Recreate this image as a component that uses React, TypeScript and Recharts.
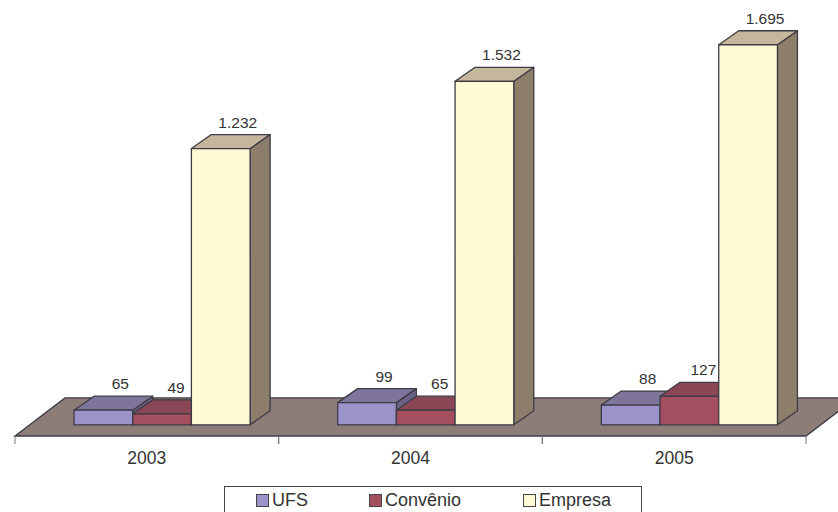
import React from "react";
import { BarChart, Bar, XAxis, YAxis, Legend, LabelList, ReferenceArea } from "recharts";

const years = ["2003", "2004", "2005"];
const ufs = [65, 99, 88];
const convenio = [49, 65, 127];
const empresa = [1232, 1532, 1695];

const chartData = years.map((year, i) => ({
  year,
  UFS: ufs[i],
  "Convênio": convenio[i],
  Empresa: empresa[i],
}));

const FONT = "'Liberation Sans', Arial, sans-serif";
const EDGE = "#3d3b45";
const TEXT = "#333333";
const DEPTH_X = 20;
const DEPTH_Y = 14;
// the bars sit right of the band centre, to leave room for the depth
const SHIFT = 15;
const BAND = 263.7;

const colors: Record<string, { front: string; top: string; side: string }> = {
  UFS: { front: "#9b93c9", top: "#7f7499", side: "#6b6285" },
  "Convênio": { front: "#a34f60", top: "#8a4655", side: "#733a47" },
  Empresa: { front: "#fff9d6", top: "#c5b79b", side: "#8d7d6b" },
};

const Box3D = (props: any) => {
  const { x, y, width, height, name } = props;
  const c = colors[name];
  const l = x + SHIFT;
  const r = l + width;
  const b = y + height;
  const dx = DEPTH_X;
  const dy = DEPTH_Y;
  return (
    <g stroke={EDGE} strokeWidth={1.3} strokeLinejoin="round">
      <polygon points={`${r},${y} ${r + dx},${y - dy} ${r + dx},${b - dy} ${r},${b}`} fill={c.side} />
      <polygon points={`${l},${y} ${l + dx},${y - dy} ${r + dx},${y - dy} ${r},${y}`} fill={c.top} />
      <rect x={l} y={y} width={width} height={height} fill={c.front} />
    </g>
  );
};

const Floor = (props: any) => {
  const { x, y, width, height } = props;
  const b = y + height;
  return (
    <polygon
      points={`${x},${b} ${x + 50},${y} ${x + width + 50},${y} ${x + width},${b}`}
      fill="#8c7d78"
      stroke={EDGE}
      strokeWidth={1.3}
    />
  );
};

const YearTick = (props: any) => {
  const { x, y, payload } = props;
  const half = BAND / 2;
  return (
    <g>
      <line x1={x - half} x2={x - half} y1={y - 8} y2={y} stroke="#777" />
      <line x1={x + half} x2={x + half} y1={y - 8} y2={y} stroke="#777" />
      <text x={x} y={y + 20} fontFamily={FONT} fontSize={17.5} fill={TEXT} style={{ textAnchor: "middle" }}>
        {payload.value}
      </text>
    </g>
  );
};

const formatValue = (v: number) => String(v).replace(/\B(?=(\d{3})+$)/g, ".");

const ValueLabel = (props: any) => {
  const { x, y, width, value, nudge = 17 } = props;
  return (
    <text
      x={x + SHIFT + width / 2 + nudge}
      y={y - DEPTH_Y - 7}
      style={{ textAnchor: "middle" }}
      fontFamily={FONT}
      fontSize={15.5}
      fill={TEXT}
    >
      {formatValue(value)}
    </text>
  );
};

const legendX: Record<string, number> = { UFS: 31, "Convênio": 144, Empresa: 298 };

// the box runs past the bottom of the picture, so its lower edge is cut off
const LegendBox = (props: any) => (
  <div style={{ position: "relative", width: 418, height: 32, border: "1px solid #444", boxSizing: "border-box", background: "#fff" }}>
    {props.payload.map((item: any) => (
      <div key={item.value} style={{ position: "absolute", left: legendX[item.value], top: 3, display: "flex", alignItems: "center", fontFamily: FONT, fontSize: 18, color: TEXT, lineHeight: "20px" }}>
        <span style={{ width: 13, height: 13, marginRight: 3, border: "1px solid #444", boxSizing: "border-box", background: colors[item.value].front }} />
        {item.value}
      </div>
    ))}
  </div>
);

export default function App() {
  return (
    <div style={{ position: "absolute", left: 0, top: 0, width: 838, height: 512, overflow: "hidden", background: "#fff" }}>
      <BarChart
        width={838}
        height={512}
        data={chartData}
        barGap={0}
        barCategoryGap={0}
        barSize={58.7}
        margin={{ top: 10, right: 32, bottom: 20, left: 15 }}
      >
        <XAxis dataKey="year" axisLine={false} tickLine={false} tick={<YearTick />} interval={0} />
        <YAxis hide domain={[-50, 1850]} allowDataOverflow />
        <ReferenceArea y1={-50} y2={120} shape={<Floor />} />
        <Legend content={<LegendBox />} wrapperStyle={{ left: 224, top: 486, width: 418, height: 26 }} />
        <Bar dataKey="UFS" name="UFS" fill={colors.UFS.front} shape={<Box3D />} isAnimationActive={false}>
          <LabelList dataKey="UFS" content={<ValueLabel />} />
        </Bar>
        <Bar dataKey="Convênio" name="Convênio" fill={colors["Convênio"].front} shape={<Box3D />} isAnimationActive={false}>
          <LabelList dataKey="Convênio" content={<ValueLabel nudge={14} />} />
        </Bar>
        <Bar dataKey="Empresa" name="Empresa" fill={colors.Empresa.front} shape={<Box3D />} isAnimationActive={false}>
          <LabelList dataKey="Empresa" content={<ValueLabel />} />
        </Bar>
      </BarChart>
    </div>
  );
}
